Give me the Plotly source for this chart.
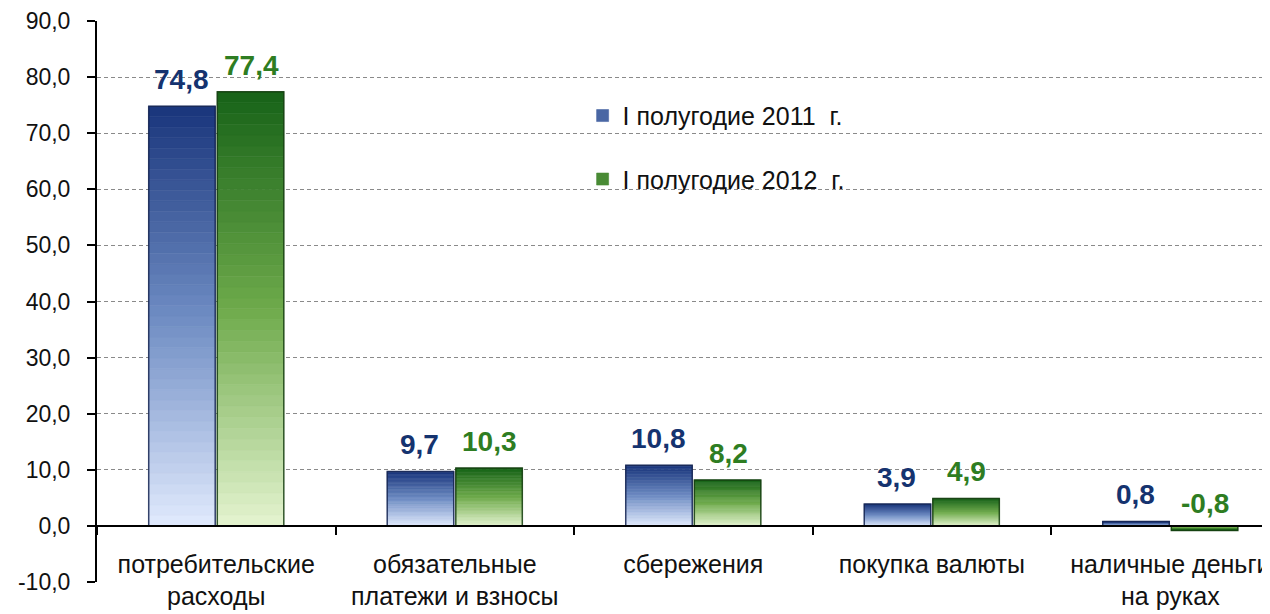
import plotly.graph_objects as go

categories = ["потребительские<br>расходы", "обязательные<br>платежи и взносы", "сбережения",
              "покупка валюты", "наличные деньги<br>на руках"]
series_names = ["I полугодие 2011\u00a0 г.", "I полугодие 2012\u00a0 г."]
values_2011 = [74.8, 9.7, 10.8, 3.9, 0.8]
values_2012 = [77.4, 10.3, 8.2, 4.9, -0.8]
y_ticks = [-10, 0, 10, 20, 30, 40, 50, 60, 70, 80, 90]

FONT = "Liberation Sans, Arial, sans-serif"
N = 40

def lerp(c1, c2, t):
    return "rgb(%d,%d,%d)" % tuple(round(a + (b - a) * t) for a, b in zip(c1, c2))

styles = [
    dict(top=(27, 55, 125), mid=(110, 140, 195), bottom=(222, 232, 252), edge="rgba(20,35,80,0.85)",
         label="#15336f"),
    dict(top=(25, 100, 25), mid=(110, 170, 75), bottom=(226, 242, 205), edge="rgba(20,60,15,0.85)",
         label="#2e7d22"),
]

fig = go.Figure()
for k, (name, vals, st) in enumerate(zip(series_names, [values_2011, values_2012], styles)):
    og = str(k)
    for i in range(N):
        t = i / (N - 1)  # 0 bottom -> 1 top
        if t < 0.5:
            col = lerp(st["bottom"], st["mid"], t / 0.5)
        else:
            col = lerp(st["mid"], st["top"], (t - 0.5) / 0.5)
        fig.add_trace(go.Bar(
            x=categories, y=[v / N for v in vals], base=[v * i / N for v in vals],
            offsetgroup=og, marker=dict(color=col, line=dict(width=0.6, color=col)),
            name=name, legendgroup=og, showlegend=(i == int(N * 0.7)),
            hoverinfo="skip"))
    fig.add_trace(go.Bar(
        x=categories, y=vals, offsetgroup=og,
        marker=dict(color="rgba(0,0,0,0)", line=dict(color=st["edge"], width=1.5)),
        showlegend=False, hoverinfo="skip"))

# value labels
for k, (vals, st) in enumerate(zip([values_2011, values_2012], styles)):
    for j, v in enumerate(vals):
        fig.add_annotation(
            x=categories[j], y=v, text=f"{v:.1f}".replace(".", ","),
            xref="x", yref="y", showarrow=False, yanchor="bottom",
            xshift=(-35 if k == 0 else 35), yshift=9,
            font=dict(family=FONT, size=28, color=st["label"], weight="bold"))

# white panel behind legend (covers gridlines)
fig.add_shape(type="rect", xref="paper", yref="paper", x0=0.365, x1=0.71, y0=0.655, y1=0.86,
              fillcolor="white", line=dict(width=0), layer="between")

fig.update_layout(
    width=1262, height=606,
    margin=dict(l=89, r=0, t=13, b=32),
    paper_bgcolor="white", plot_bgcolor="white",
    barmode="group", bargap=0.425, bargroupgap=0.03,
    font=dict(family=FONT, size=24, color="#111"),
    showlegend=True,
    legend=dict(x=0.414, y=0.872, xanchor="left", yanchor="top", bgcolor="rgba(0,0,0,0)",
                font=dict(family=FONT, size=25, color="#111"), tracegroupgap=28,
                traceorder="grouped", itemwidth=30),
    xaxis=dict(range=[-0.5, 4.418], type="category", anchor="free", position=0.1,
               showline=True, linecolor="black", linewidth=2, automargin=False,
               ticks="outside", tickson="boundaries", ticklen=8, tickcolor="black", tickwidth=2,
               ticklabelstandoff=16, tickfont=dict(family=FONT, size=25, color="#111"),
               showgrid=False),
    yaxis=dict(range=[-10, 90], tickvals=y_ticks, automargin=False,
               ticktext=[f"{t:.1f}".replace(".", ",") for t in y_ticks],
               ticklabeloverflow="allow",
               showline=True, linecolor="black", linewidth=2,
               ticks="outside", ticklen=8, tickcolor="black", tickwidth=2,
               ticklabelstandoff=12, tickfont=dict(family=FONT, size=23, color="#111"),
               showgrid=True, gridcolor="#8a8a8a", griddash="4px,3px", gridwidth=1,
               zeroline=True, zerolinecolor="black", zerolinewidth=2),
)

fig.write_html("out.html")
